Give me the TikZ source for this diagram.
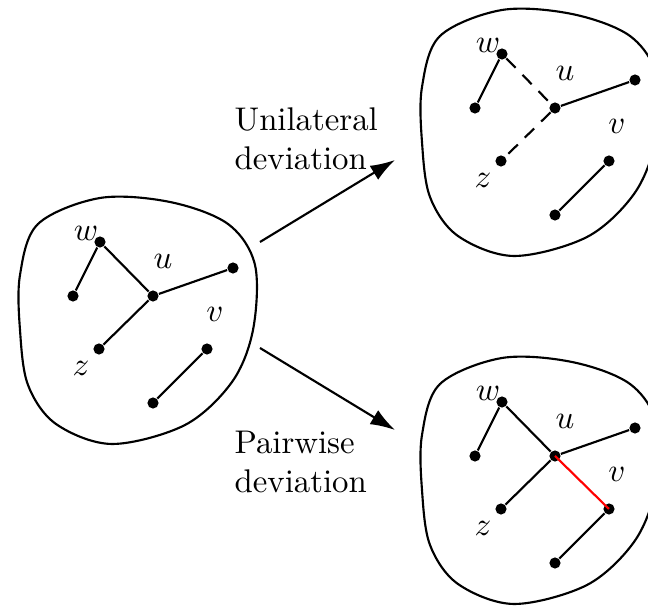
\documentclass[tikz,border=0pt]{standalone}
\usetikzlibrary{arrows.meta}
\newcommand\netgraph[2]{%
  \begin{scope}[shift={#2}]
    \draw[blob] plot[smooth cycle,tension=0.55] coordinates {(20,275) (38,224) (100,198) (170,202) (228,224) (255,265) (253,330) (232,382) (185,425) (112,444) (56,424) (28,385) (20,330)};
    \node[dot] (#1w) at (100,242) {};
    \node[dot] (#1a) at (73,296) {};
    \node[dot] (#1u) at (153,296) {};
    \node[dot] (#1r) at (233,268) {};
    \node[dot] (#1z) at (99,349) {};
    \node[dot] (#1v) at (207,349) {};
    \node[dot] (#1b) at (153,403) {};
    \node[lbl] (#1lw) at (86,233) {$w$};
    \node[lbl] (#1lu) at (163,261) {$u$};
    \node[lbl] (#1lv) at (215,314) {$v$};
    \node[lbl] (#1lz) at (81,368) {$z$};
  \end{scope}}
\begin{document}
\begin{tikzpicture}[x=0.3049pt,y=-0.3049pt,
  dot/.style={circle,fill=black,inner sep=0pt,minimum size=3.4pt},
  edge/.style={line width=0.65pt},
  dashededge/.style={line width=0.65pt,dash pattern=on 4pt off 3pt},
  rededge/.style={line width=0.65pt,red},
  blob/.style={line width=0.65pt},
  lbl/.style={inner sep=0pt},
  arr/.style={line width=0.65pt,-{Latex[length=7.5pt,width=5pt]}},
  caption/.style={anchor=north west,inner sep=0pt,align=left}]
\useasboundingbox (0,0) rectangle (648,607);

% left graph
\netgraph{L}{(0,0)}
\draw[edge] (Lw) -- (La);
\draw[edge] (Lw) -- (Lu);
\draw[edge] (Lu) -- (Lr);
\draw[edge] (Lu) -- (Lz);
\draw[edge] (Lv) -- (Lb);

% top right graph
\netgraph{T}{(402,-188)}
\draw[edge] (Tw) -- (Ta);
\draw[dashededge] (Tw) -- (Tu);
\draw[edge] (Tu) -- (Tr);
\draw[dashededge] (Tu) -- (Tz);
\draw[edge] (Tv) -- (Tb);

% bottom right graph
\netgraph{B}{(402,160)}
\draw[edge] (Bw) -- (Ba);
\draw[edge] (Bw) -- (Bu);
\draw[edge] (Bu) -- (Br);
\draw[edge] (Bu) -- (Bz);
\draw[edge] (Bv) -- (Bb);
\draw[rededge] (Bu.center) -- (Bv.center);

% arrows
\coordinate (a1s) at (260,242);
\coordinate (a1e) at (395,160);
\coordinate (a2s) at (260,348);
\coordinate (a2e) at (395,430);
\draw[arr] (a1s) -- (a1e);
\draw[arr] (a2s) -- (a2e);

\node[caption] (cap1) at (234,107) {Unilateral\\deviation};
\node[caption] (cap2) at (234,430) {Pairwise\\deviation};
\end{tikzpicture}
\end{document}
